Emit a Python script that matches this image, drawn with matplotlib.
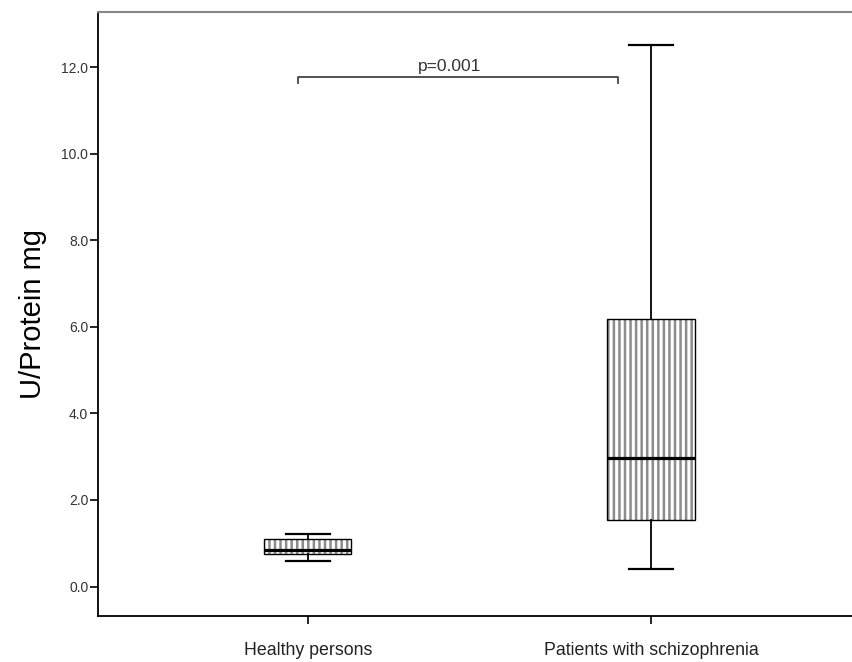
import matplotlib
matplotlib.use("Agg")
import matplotlib.pyplot as plt
from matplotlib.patches import PathPatch

plt.rcParams['font.family'] = ['Liberation Sans', 'DejaVu Sans']
plt.rcParams['hatch.linewidth'] = 1.8

groups = ["Healthy persons", "Patients with schizophrenia"]
whislo = [0.60, 0.41]
q1 = [0.76, 1.54]
med = [0.85, 2.98]
q3 = [1.10, 6.17]
whishi = [1.22, 12.51]
p_text = "p=0.001"

stats = []
for i in range(len(groups)):
    stats.append({"label": groups[i], "whislo": whislo[i], "q1": q1[i],
                  "med": med[i], "q3": q3[i], "whishi": whishi[i], "fliers": []})

fig = plt.figure(figsize=(8.52, 6.62), dpi=100)
ax = fig.add_axes([0.115, 0.0695, 0.885, 0.913])

bp = ax.bxp(stats, positions=[1, 2], widths=0.254, patch_artist=True,
            showfliers=False,
            boxprops=dict(facecolor="white", edgecolor="#8c8c8c", hatch="|||", linewidth=0),
            medianprops=dict(color="black", linewidth=2.3),
            whiskerprops=dict(color="black", linewidth=1.3),
            capprops=dict(color="black", linewidth=1.6),
            capwidths=0.127)
for box in bp["boxes"]:
    ax.add_patch(PathPatch(box.get_path(), fill=False, edgecolor="black",
                           linewidth=1.0, zorder=box.get_zorder() + 0.1))

# significance bracket
x0, x1, yb, yt = 0.971, 1.904, 11.63, 11.76
ax.plot([x0, x0, x1, x1], [yb, yt, yt, yb], color="#444444", linewidth=1.3)
ax.text(1.414, yt + 0.08, p_text, ha="center", va="bottom",
        fontsize=12.5, color="#333333")

ax.set_xlim(0.388, 2.586)
ax.set_ylim(-0.68, 13.28)
ax.set_yticks([0, 2, 4, 6, 8, 10, 12])
ax.set_yticklabels([f"{v:.1f}" for v in [0, 2, 4, 6, 8, 10, 12]])
ax.set_xticks([1, 2])
ax.set_xticklabels(groups)
ax.tick_params(axis="y", direction="out", length=6, width=1.2, labelsize=10,
               labelcolor="#333333", pad=1)
ax.tick_params(axis="x", direction="out", length=6, width=1.2, labelsize=12.8,
               labelcolor="#222222", pad=13)
ax.set_ylabel("U/Protein mg", fontsize=21, labelpad=10)

ax.spines["right"].set_visible(False)
ax.spines["top"].set_color("#888888")
ax.spines["top"].set_linewidth(1.5)
ax.spines["left"].set_linewidth(1.3)
ax.spines["bottom"].set_linewidth(1.3)

fig.savefig("out.png", dpi=100)
